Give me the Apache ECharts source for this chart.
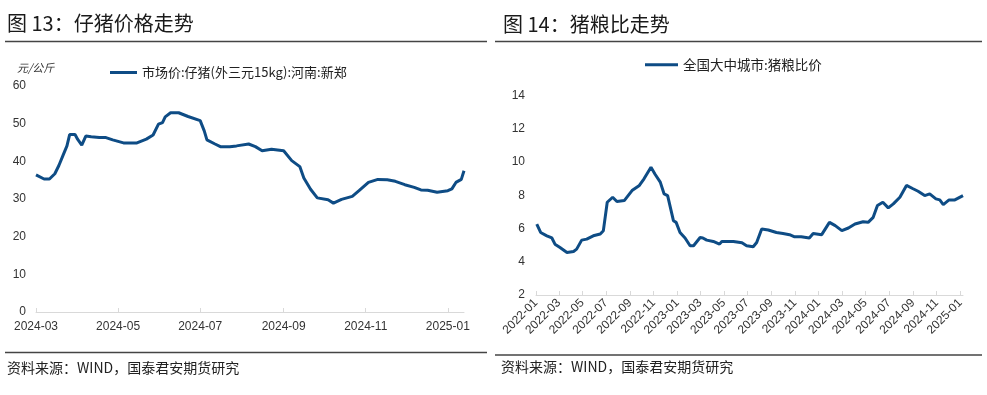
<!DOCTYPE html>
<html><head><meta charset="utf-8">
<script src="https://cdn.jsdelivr.net/npm/echarts@6/dist/echarts.min.js"></script>
<style>html,body{margin:0;padding:0;background:#fff}#c{width:987px;height:395px}</style>
</head><body><div id="c"></div>
<script>
// ---- Chart 13: piglet price (元/公斤) ----
const pigletName = '市场价:仔猪(外三元15kg):河南:新郑';
const pigletDates = ['2024-03-01','2024-03-07','2024-03-11','2024-03-15','2024-03-18','2024-03-21','2024-03-24','2024-03-26','2024-03-30','2024-04-01','2024-04-04','2024-04-07','2024-04-11','2024-04-17','2024-04-22','2024-04-27','2024-05-05','2024-05-15','2024-05-22','2024-05-27','2024-05-31','2024-06-03','2024-06-05','2024-06-09','2024-06-15','2024-06-22','2024-07-01','2024-07-04','2024-07-06','2024-07-12','2024-07-16','2024-07-23','2024-07-28','2024-08-06','2024-08-11','2024-08-16','2024-08-23','2024-09-01','2024-09-07','2024-09-13','2024-09-16','2024-09-21','2024-09-26','2024-10-04','2024-10-08','2024-10-14','2024-10-22','2024-10-27','2024-11-03','2024-11-10','2024-11-17','2024-11-23','2024-11-30','2024-12-07','2024-12-12','2024-12-17','2024-12-24','2025-01-01','2025-01-04','2025-01-07','2025-01-11','2025-01-13'];
const pigletPrices = [36.4,35.3,35.3,36.7,38.9,41.5,44.1,47.1,47.1,45.8,44.3,46.7,46.5,46.3,46.3,45.7,44.9,44.9,45.9,47.0,49.9,50.3,51.8,52.9,52.9,51.9,50.8,48.1,45.7,44.6,43.9,43.9,44.1,44.6,43.9,42.8,43.2,42.8,40.2,38.6,35.6,32.6,30.3,29.8,28.9,29.9,30.7,32.2,34.4,35.2,35.1,34.7,33.8,33.1,32.4,32.3,31.8,32.2,32.7,34.4,35.2,37.5];
const pigletTicks = ['2024-03-01','2024-05-01','2024-07-01','2024-09-01','2024-11-01','2025-01-01'];

// ---- Chart 14: hog-grain ratio ----
const ratioName = '全国大中城市:猪粮比价';
const ratioDates = ['2022-01-03','2022-01-13','2022-01-29','2022-02-11','2022-02-19','2022-03-04','2022-03-22','2022-04-08','2022-04-16','2022-04-29','2022-05-12','2022-05-29','2022-06-16','2022-06-24','2022-07-04','2022-07-18','2022-07-29','2022-08-17','2022-08-25','2022-09-06','2022-09-25','2022-10-07','2022-10-25','2022-11-05','2022-11-18','2022-11-28','2022-12-07','2022-12-22','2022-12-29','2023-01-08','2023-01-21','2023-02-03','2023-02-12','2023-03-01','2023-03-08','2023-03-18','2023-04-04','2023-04-20','2023-04-26','2023-05-26','2023-06-17','2023-06-29','2023-07-16','2023-07-25','2023-08-07','2023-08-24','2023-09-14','2023-10-01','2023-10-18','2023-10-31','2023-11-17','2023-12-08','2023-12-18','2024-01-09','2024-01-29','2024-02-13','2024-03-01','2024-03-18','2024-04-04','2024-04-25','2024-05-08','2024-05-21','2024-06-01','2024-06-15','2024-06-29','2024-07-12','2024-07-29','2024-08-15','2024-09-01','2024-09-14','2024-10-01','2024-10-14','2024-10-30','2024-11-09','2024-11-18','2024-12-03','2024-12-18','2025-01-08'];
const ratioValues = [6.27,5.76,5.56,5.43,5.06,4.86,4.56,4.62,4.76,5.30,5.36,5.56,5.67,5.87,7.58,7.88,7.62,7.68,7.92,8.28,8.59,8.99,9.69,9.25,8.79,8.08,7.98,6.47,6.37,5.76,5.43,4.96,4.96,5.46,5.43,5.30,5.22,5.06,5.22,5.22,5.14,4.96,4.90,5.16,5.97,5.91,5.76,5.70,5.63,5.50,5.50,5.43,5.70,5.63,6.37,6.17,5.87,6.03,6.27,6.41,6.37,6.67,7.38,7.58,7.24,7.48,7.88,8.59,8.39,8.24,7.98,8.08,7.78,7.72,7.44,7.72,7.72,7.98];
const ratioTicks = ['2022-01-01','2022-03-01','2022-05-01','2022-07-01','2022-09-01','2022-11-01','2023-01-01','2023-03-01','2023-05-01','2023-07-01','2023-09-01','2023-11-01','2024-01-01','2024-03-01','2024-05-01','2024-07-01','2024-09-01','2024-11-01','2025-01-01'];

function ts(s){ const p = s.split('-').map(Number); return new Date(p[0], p[1]-1, p[2]).getTime(); }
function fmt(v){ const d = new Date(v); return d.getFullYear() + '-' + String(d.getMonth()+1).padStart(2,'0'); }

const LINE = '#0E4C85';
const AXIS = '#d9d9d9';
const LBL = '#333333';
const CJK = '"Noto Sans CJK SC", sans-serif';
const LAT = '"Liberation Sans", Arial, sans-serif';

const chart = echarts.init(document.getElementById('c'), null, {renderer: 'canvas'});
chart.setOption({
  animation: false,
  backgroundColor: '#ffffff',
  grid: [
    {left: 36, right: 523, top: 86, bottom: 83},
    {left: 536, right: 24, top: 95.5, bottom: 100}
  ],
  legend: [
    {data: [pigletName], left: 105, top: 61, icon: 'rect', itemWidth: 27, itemHeight: 3, itemGap: 0,
     textStyle: {fontFamily: CJK, fontSize: 13, color: '#222'}},
    {data: [ratioName], left: 640, top: 53, icon: 'rect', itemWidth: 33, itemHeight: 3, itemGap: 0,
     textStyle: {fontFamily: CJK, fontSize: 13.5, color: '#222'}}
  ],
  xAxis: [
    {type: 'value', gridIndex: 0, min: ts('2024-03-01'), max: ts('2025-01-13'), scale: true,
     axisLine: {show: true, lineStyle: {color: AXIS}},
     axisTick: {show: true, inside: true, length: 4, customValues: pigletTicks.map(ts), lineStyle: {color: AXIS}},
     axisLabel: {customValues: pigletTicks.map(ts), formatter: fmt, color: LBL, fontSize: 12, fontFamily: LAT, margin: 9},
     splitLine: {show: false}},
    {type: 'value', gridIndex: 1, min: ts('2022-01-01'), max: ts('2025-01-08'), scale: true,
     axisLine: {show: true, lineStyle: {color: AXIS}},
     axisTick: {show: true, inside: true, length: 4, customValues: ratioTicks.map(ts), lineStyle: {color: AXIS}},
     axisLabel: {customValues: ratioTicks.map(ts), formatter: fmt, color: LBL, fontSize: 12, fontFamily: LAT, margin: 6, rotate: 45},
     splitLine: {show: false}}
  ],
  yAxis: [
    {type: 'value', gridIndex: 0, min: 0, max: 60, interval: 10,
     axisLine: {show: false}, axisTick: {show: false}, splitLine: {show: false},
     axisLabel: {color: LBL, fontSize: 12, fontFamily: LAT, margin: 10}},
    {type: 'value', gridIndex: 1, min: 2, max: 14, interval: 2,
     axisLine: {show: false}, axisTick: {show: false}, splitLine: {show: false},
     axisLabel: {color: LBL, fontSize: 12, fontFamily: LAT, margin: 11}}
  ],
  series: [
    {name: pigletName, type: 'line', xAxisIndex: 0, yAxisIndex: 0, symbol: 'none',
     lineStyle: {color: LINE, width: 3}, itemStyle: {color: LINE},
     data: pigletDates.map((d, i) => [ts(d), pigletPrices[i]])},
    {name: ratioName, type: 'line', xAxisIndex: 1, yAxisIndex: 1, symbol: 'none',
     lineStyle: {color: LINE, width: 3}, itemStyle: {color: LINE},
     data: ratioDates.map((d, i) => [ts(d), ratioValues[i]])}
  ],
  graphic: [
    {type: 'text', left: 7, top: 13, style: {text: '图 13：仔猪价格走势', font: '20px ' + CJK, fill: '#1a1a1a'}},
    {type: 'line', shape: {x1: 5, y1: 41.5, x2: 487, y2: 41.5}, style: {stroke: '#444', lineWidth: 1.5}},
    {type: 'text', left: 17, top: 62, style: {text: '元/公斤', font: 'italic 11px ' + CJK, fill: '#333'}},
    {type: 'line', shape: {x1: 5, y1: 352.5, x2: 487, y2: 352.5}, style: {stroke: '#444', lineWidth: 1.5}},
    {type: 'text', left: 7, top: 361, style: {text: '资料来源：WIND，国泰君安期货研究', font: '14px ' + CJK, fill: '#222'}},
    {type: 'text', left: 503, top: 14, style: {text: '图 14：猪粮比走势', font: '20px ' + CJK, fill: '#1a1a1a'}},
    {type: 'line', shape: {x1: 495, y1: 41.5, x2: 982, y2: 41.5}, style: {stroke: '#444', lineWidth: 1.5}},
    {type: 'line', shape: {x1: 495, y1: 355, x2: 982, y2: 355}, style: {stroke: '#444', lineWidth: 1.5}},
    {type: 'text', left: 501, top: 360, style: {text: '资料来源：WIND，国泰君安期货研究', font: '14px ' + CJK, fill: '#222'}}
  ]
});
</script>
</body></html>
